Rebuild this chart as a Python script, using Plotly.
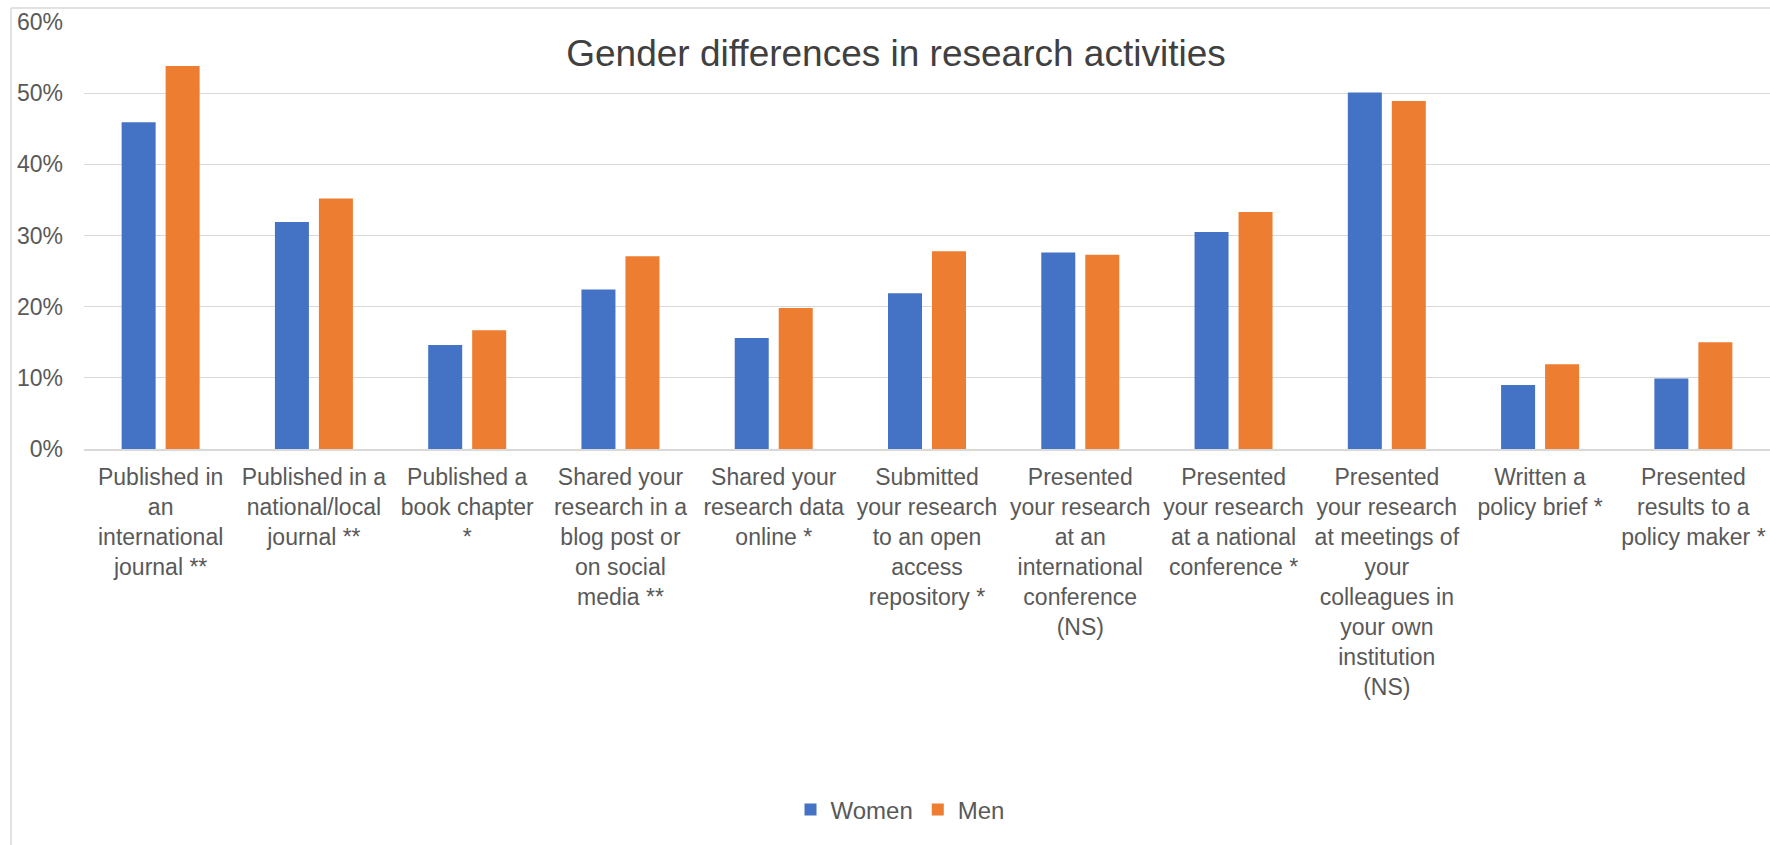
import plotly.graph_objects as go

categories = [
    "Published in<br>an<br>international<br>journal **",
    "Published in a<br>national/local<br>journal **",
    "Published a<br>book chapter<br>*",
    "Shared your<br>research in a<br>blog post or<br>on social<br>media **",
    "Shared your<br>research data<br>online *",
    "Submitted<br>your research<br>to an open<br>access<br>repository *",
    "Presented<br>your research<br>at an<br>international<br>conference<br>(NS)",
    "Presented<br>your research<br>at a national<br>conference *",
    "Presented<br>your research<br>at meetings of<br>your<br>colleagues in<br>your own<br>institution<br>(NS)",
    "Written a<br>policy brief *",
    "Presented<br>results to a<br>policy maker *",
]
women = [0.459, 0.319, 0.146, 0.224, 0.156, 0.219, 0.276, 0.305, 0.501, 0.090, 0.099]
men = [0.538, 0.352, 0.167, 0.271, 0.198, 0.278, 0.273, 0.333, 0.489, 0.119, 0.150]
y_ticks = [0, 0.1, 0.2, 0.3, 0.4, 0.5, 0.6]
title_text = "Gender differences in research activities"

FONT = "Liberation Sans, Arial, sans-serif"
W, H = 1770, 845
ML, MT, MB = 84, 22, 396
PW = W - ML
PH = H - MT - MB

def px_to_paper_x(px):
    return (px - ML) / PW

def px_to_paper_y(py):
    return (H - MB - py) / PH

fig = go.Figure()
fig.add_trace(go.Bar(name="Women", x=categories, y=women, marker=dict(color="#4472C4", line=dict(width=0))))
fig.add_trace(go.Bar(name="Men", x=categories, y=men, marker=dict(color="#ED7D31", line=dict(width=0))))

fig.update_layout(
    width=W, height=H,
    margin=dict(l=ML, r=0, t=MT, b=MB, autoexpand=False),
    paper_bgcolor="white", plot_bgcolor="white",
    barmode="group", bargap=0.426, bargroupgap=0.227,
    font=dict(family=FONT, color="#595959"),
    title=dict(text=title_text, font=dict(family=FONT, size=37, color="#404040"),
               xref="paper", x=px_to_paper_x(896), xanchor="center",
               yref="container", y=(H - 53) / H, yanchor="middle"),
    legend=dict(orientation="h", x=px_to_paper_x(900), xanchor="center",
                y=px_to_paper_y(810), yanchor="middle",
                font=dict(family=FONT, size=24, color="#595959"),
                itemwidth=30, traceorder="normal"),
    xaxis=dict(showgrid=False, showline=True, linecolor="#d9d9d9", linewidth=1.5,
               tickfont=dict(family=FONT, size=23, color="#595959"),
               ticks="", ticklabelstandoff=7, tickangle=0, automargin=False),
    yaxis=dict(range=[0, 0.6], tickvals=y_ticks, tickformat=".0%",
               showgrid=True, gridcolor="#d9d9d9", gridwidth=1.3,
               zeroline=False, showline=False, ticks="",
               tickfont=dict(family=FONT, size=23, color="#595959"),
               ticklabelstandoff=20, automargin=False),
    shapes=[
        dict(type="line", xref="paper", yref="paper",
             x0=px_to_paper_x(11), x1=px_to_paper_x(11),
             y0=px_to_paper_y(8), y1=px_to_paper_y(H + 5),
             line=dict(color="#d9d9d9", width=1.5)),
        dict(type="line", xref="paper", yref="paper",
             x0=px_to_paper_x(11), x1=px_to_paper_x(W + 5),
             y0=px_to_paper_y(8), y1=px_to_paper_y(8),
             line=dict(color="#d9d9d9", width=1.5)),
    ],
)

fig.write_html("out.html")
